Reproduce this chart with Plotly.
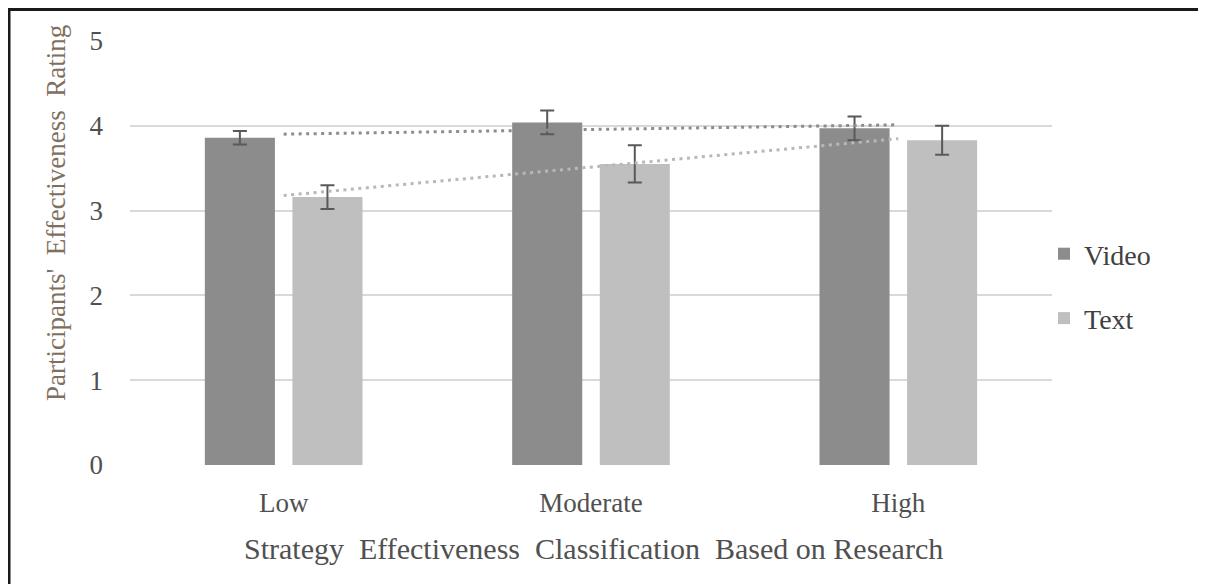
import numpy as np
import plotly.graph_objects as go

categories = ["Low", "Moderate", "High"]
video_values = [3.86, 4.04, 3.97]
video_err = [0.08, 0.14, 0.14]
text_values = [3.16, 3.55, 3.83]
text_err = [0.14, 0.22, 0.17]
y_ticks = [0, 1, 2, 3, 4, 5]

FONT = "'Liberation Serif', 'Times New Roman', 'DejaVu Serif', serif"
OFF = 8  # page body margin
W, H = 1206 - OFF, 584 - OFF
ML = 130 - OFF
MT = 41 - OFF
PLOT_R = 1052 - OFF
PLOT_B = 465 - OFF
MR = W - PLOT_R
MB = H - PLOT_B
PW, PH = W - ML - MR, H - MT - MB


def px(xr):
    """reference page x pixel -> paper x"""
    return (xr - OFF - ML) / PW


def py(yr):
    """reference page y pixel -> paper y"""
    return (PLOT_B - (yr - OFF)) / PH


fig = go.Figure()
fig.add_trace(go.Bar(
    name="Video", x=categories, y=video_values,
    marker=dict(color="#8c8c8c", line=dict(width=0)),
    error_y=dict(type="data", array=video_err, color="#595959", thickness=2, width=7),
    legendgroup="v",
))
fig.add_trace(go.Bar(
    name="Text", x=categories, y=text_values,
    marker=dict(color="#bfbfbf", line=dict(width=0)),
    error_y=dict(type="data", array=text_err, color="#595959", thickness=2, width=7),
    legendgroup="t",
))

# linear trendlines fitted to each series
xi = np.arange(1, len(categories) + 1)
for vals, col in [(video_values, "#8c8c8c"), (text_values, "#b8b8b8")]:
    m, b = np.polyfit(xi, vals, 1)
    fit = m * xi + b
    fig.add_trace(go.Scatter(
        x=categories, y=fit, mode="lines",
        line=dict(color=col, width=3, dash="3px,4.5px"),
        showlegend=False, hoverinfo="skip",
    ))

fig.update_layout(
    width=W, height=H,
    margin=dict(l=ML, r=MR, t=MT, b=MB),
    paper_bgcolor="white", plot_bgcolor="white",
    barmode="group", bargap=0.43, bargroupgap=0.2,
    font=dict(family=FONT, size=27, color="#505050"),
    showlegend=True,
    legend=dict(
        x=px(1044), xanchor="left",
        y=py(229), yanchor="top",
        font=dict(family=FONT, size=28, color="#404040"),
        traceorder="grouped", tracegroupgap=25,
        itemwidth=30, bgcolor="rgba(0,0,0,0)",
    ),
    xaxis=dict(
        type="category", showgrid=False, showline=False, zeroline=False,
        ticks="", tickfont=dict(family=FONT, size=27, color="#505050"),
        ticklabelstandoff=19,
    ),
    yaxis=dict(
        range=[0, 5], tickvals=y_ticks, showgrid=True, gridcolor="#d9d9d9",
        gridwidth=1.5, zeroline=False, showline=False, ticks="",
        tickfont=dict(family=FONT, size=27, color="#505050"),
        ticklabelstandoff=26,
    ),
    annotations=[
        dict(text="Participants'  Effectiveness  Rating", textangle=-90,
             xref="paper", yref="paper",
             x=px(56), y=py(213),
             xanchor="center", yanchor="middle", showarrow=False,
             font=dict(family=FONT, size=27, color="#806f60")),
        dict(text="Strategy  Effectiveness  Classification  Based on Research",
             xref="paper", yref="paper",
             x=px(593), y=py(548),
             xanchor="center", yanchor="middle", showarrow=False,
             font=dict(family=FONT, size=30, color="#505050")),
    ],
    shapes=[
        dict(type="line", xref="paper", yref="paper",
             x0=px(7), x1=px(1215),
             y0=py(9.5), y1=py(9.5),
             line=dict(color="#1a1a1a", width=3)),
        dict(type="line", xref="paper", yref="paper",
             x0=px(9), x1=px(9),
             y0=py(8), y1=py(600),
             line=dict(color="#1a1a1a", width=3)),
    ],
)

fig.write_html("out.html")
